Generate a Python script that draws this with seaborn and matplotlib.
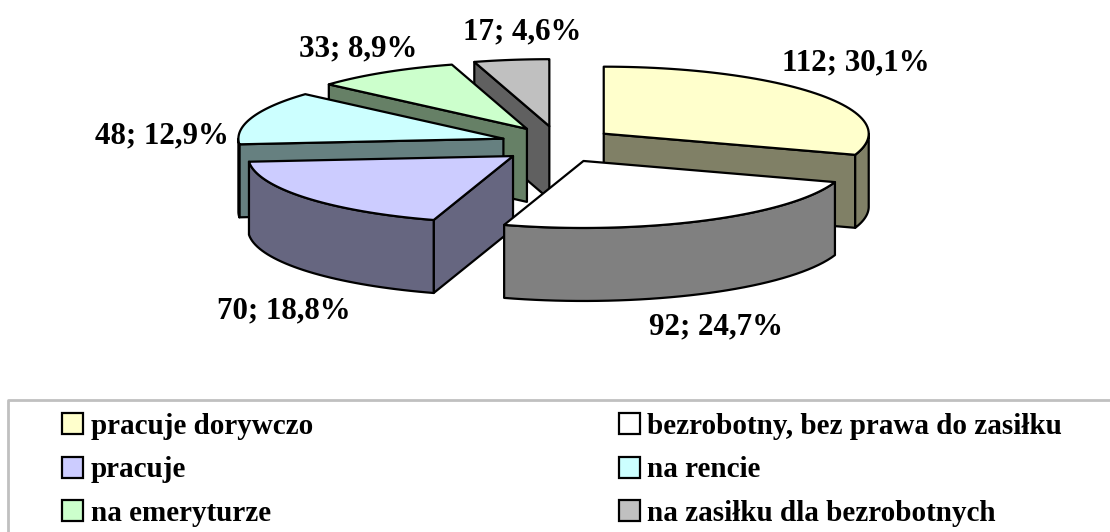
import numpy as np
import seaborn as sns
import matplotlib.pyplot as plt
from matplotlib.patches import Patch

categories = ['pracuje dorywczo', 'bezrobotny, bez prawa do zasiłku', 'pracuje',
              'na rencie', 'na emeryturze', 'na zasiłku dla bezrobotnych']
values = [112, 92, 70, 48, 33, 17]
colors = ['#FFFFCC', '#FFFFFF', '#CCCCFF', '#CCFFFF', '#CCFFCC', '#C0C0C0']
label_pos = [(856, 63), (716, 327), (284, 311), (162, 136), (358, 49), (522, 32)]

# pie geometry, in pixels of the picture
CX, CY = 557.5, 144.5
RX, RY = 265, 67
EX, EY = 57, 18.5   # how far the slices are pulled out
DEPTH = 73

sns.set_theme(style='white')
plt.rcParams['font.family'] = ['Liberation Serif', 'DejaVu Serif']
plt.rcParams['font.weight'] = 'bold'

fig, ax = plt.subplots(figsize=(11.1, 5.32), dpi=100)
ax.set_position([0, 0, 1, 1])
ax.set_xlim(0, 1110)
ax.set_ylim(532, 0)
ax.set_axis_off()

total = sum(values)
ends = np.cumsum(values) / total * 360
starts = ends - np.array(values) / total * 360


def point(ox, oy, deg):
    a = np.radians(deg)
    return ox + RX * np.sin(a), oy - RY * np.cos(a)


def side(pts, color):
    # wall under a top edge, pts is a list of x,y along that edge
    down = [(x, y + DEPTH) for x, y in reversed(pts)]
    xs, ys = zip(*(pts + down))
    ax.fill(xs, ys, facecolor=color, edgecolor='black', lw=1.6, joinstyle='round')


# back slices first, so the front ones cover them
for i in [5, 4, 3, 0, 2, 1]:
    a0, a1 = starts[i], ends[i]
    mid = np.radians((a0 + a1) / 2)
    ox = CX + EX * np.sin(mid)
    oy = CY - EY * np.cos(mid)
    dark = tuple(c * 0.5 for c in sns.color_palette([colors[i]])[0])

    if np.sin(np.radians(a0)) < -1e-6:
        side([(ox, oy), point(ox, oy, a0)], dark)
    if np.sin(np.radians(a1)) > 1e-6:
        side([(ox, oy), point(ox, oy, a1)], dark)
    lo, hi = max(a0, 90), min(a1, 270)
    if lo < hi:
        side([point(ox, oy, d) for d in np.linspace(lo, hi, 40)], dark)

    arc = [point(ox, oy, d) for d in np.linspace(a0, a1, 60)]
    xs, ys = zip(*([(ox, oy)] + arc))
    ax.fill(xs, ys, facecolor=colors[i], edgecolor='black', lw=1.6, joinstyle='round')

for v, (x, y) in zip(values, label_pos):
    pct = f'{v / total * 100:.1f}'.replace('.', ',')
    ax.text(x, y, f'{v}; {pct}%', ha='center', va='center', fontsize=22.3,
            fontweight='bold', color='black')

# legend frame runs off the right and bottom of the picture
ax.plot([1110, 8, 8], [400, 400, 532], color='#C0C0C0', lw=2, clip_on=False)

order = [0, 2, 4, 1, 3, 5]
handles = [Patch(facecolor=colors[i], edgecolor='black', lw=1.6) for i in order]
ax.legend(handles, [categories[i] for i in order], ncol=2, frameon=False,
          loc='upper left', bbox_to_anchor=(62 / 1110, 1 - 413 / 532), borderaxespad=0,
          borderpad=0, prop={'family': 'Liberation Serif', 'weight': 'bold', 'size': 21},
          handlelength=0.72, handleheight=0.72, handletextpad=0.27,
          labelspacing=0.56, columnspacing=10.47, labelcolor='black')

plt.savefig('out.png', dpi=100)
plt.close()
